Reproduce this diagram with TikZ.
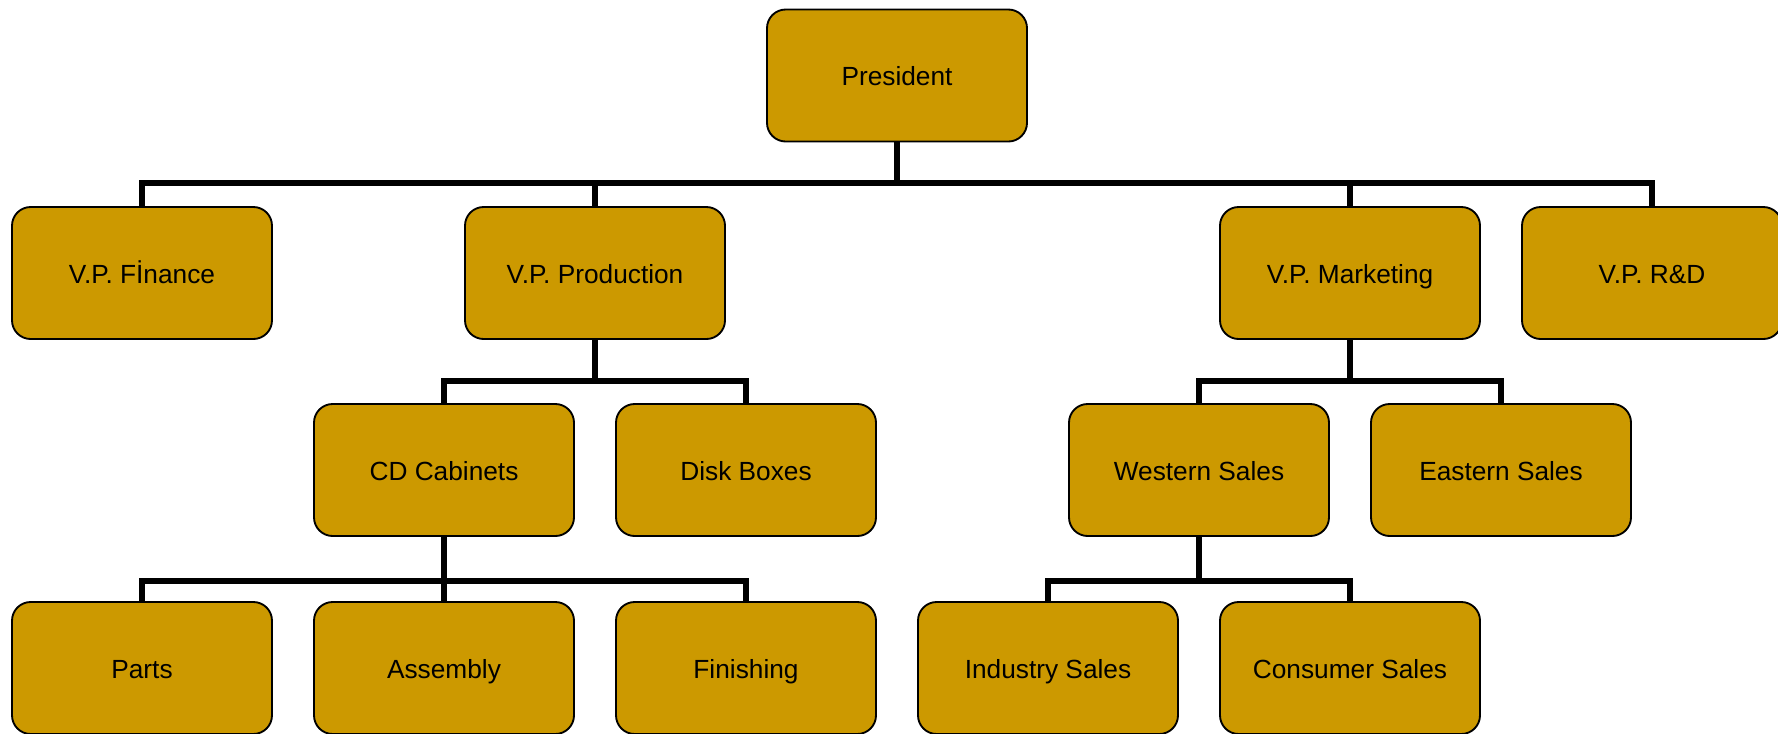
\documentclass[tikz,border=0pt]{standalone}
\usepackage{fontspec}
\setmainfont{Liberation Sans}
\definecolor{boxgold}{RGB}{204,153,0}
\begin{document}
\begin{tikzpicture}[x=0.75pt,y=-0.75pt,
  orgbox/.style={draw=black, fill=boxgold, line width=1.4pt, rounded corners=14pt,
    minimum width=195pt, minimum height=99pt, inner sep=0pt,
    text height=19.6pt, text depth=4pt,
    font=\fontsize{19.7}{24}\selectfont},
  conn/.style={line width=3.9pt, line join=miter, line cap=butt}]
\useasboundingbox (0,0) rectangle (1778,733);
\clip (0,0) rectangle (1778,733);
% bar levels
\coordinate (bar0) at (0,183);
\coordinate (bar1) at (0,381);
\coordinate (bar2) at (0,581);
% nodes
\node[orgbox] (pres) at (897,75.5) {President};
\node[orgbox] (fin) at (142,273) {V.P. Fİnance};
\node[orgbox] (prod) at (595,273) {V.P. Production};
\node[orgbox] (mkt) at (1350,273) {V.P. Marketing};
\node[orgbox] (rd) at (1652,273) {V.P. R\&D};
\node[orgbox] (cd) at (444,470) {CD Cabinets};
\node[orgbox] (disk) at (746,470) {Disk Boxes};
\node[orgbox] (west) at (1199,470) {Western Sales};
\node[orgbox] (east) at (1501,470) {Eastern Sales};
\node[orgbox] (parts) at (142,668) {Parts};
\node[orgbox] (asm) at (444,668) {Assembly};
\node[orgbox] (fini) at (746,668) {Finishing};
\node[orgbox] (ind) at (1048,668) {Industry Sales};
\node[orgbox] (cons) at (1350,668) {Consumer Sales};
% connectors
\foreach \c in {fin,prod,mkt,rd}
  \draw[conn] (pres.south) -- (pres.south |- bar0) -| (\c.north);
\foreach \c in {cd,disk}
  \draw[conn] (prod.south) -- (prod.south |- bar1) -| (\c.north);
\foreach \c in {west,east}
  \draw[conn] (mkt.south) -- (mkt.south |- bar1) -| (\c.north);
\foreach \c in {parts,asm,fini}
  \draw[conn] (cd.south) -- (cd.south |- bar2) -| (\c.north);
\foreach \c in {ind,cons}
  \draw[conn] (west.south) -- (west.south |- bar2) -| (\c.north);
\end{tikzpicture}
\end{document}
